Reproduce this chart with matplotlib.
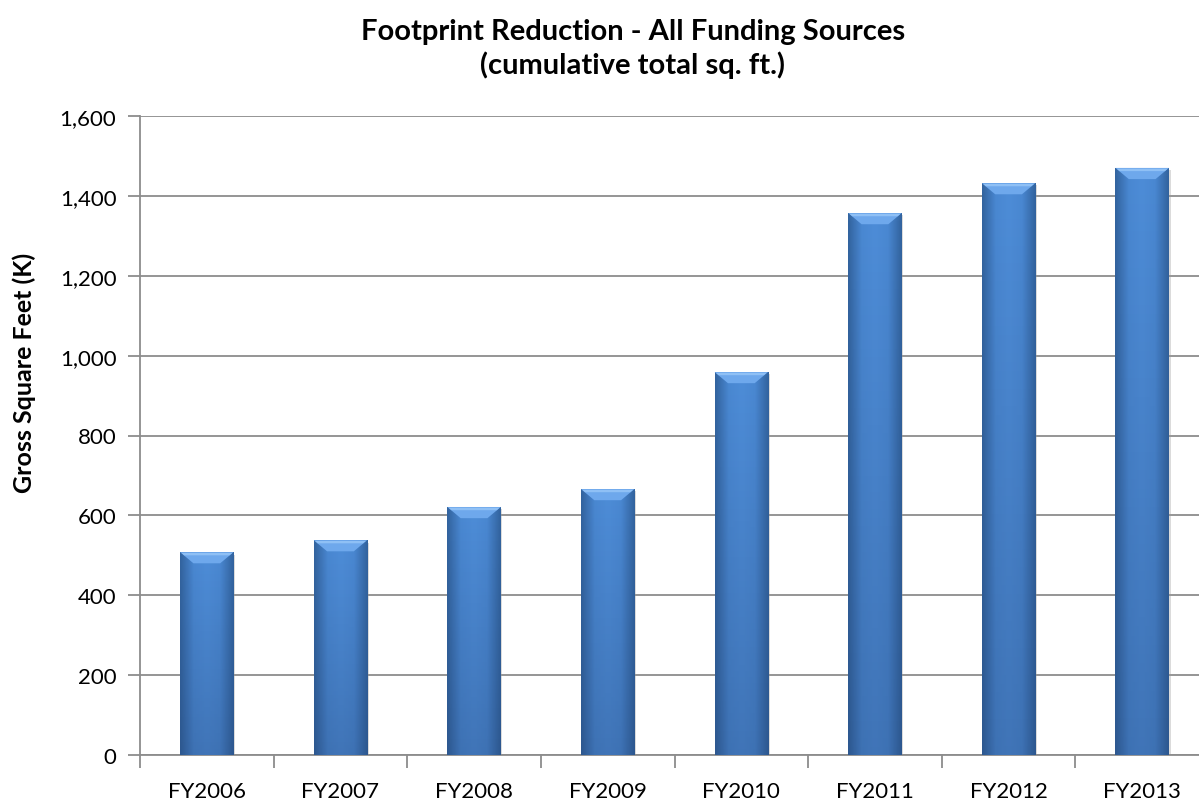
import matplotlib.pyplot as plt
from matplotlib.colors import LinearSegmentedColormap
from matplotlib.patches import Polygon
import numpy as np

years = ["FY2006", "FY2007", "FY2008", "FY2009", "FY2010", "FY2011", "FY2012", "FY2013"]
sqft = [508, 538, 621, 666, 959, 1357, 1432, 1470]
yticks = [0, 200, 400, 600, 800, 1000, 1200, 1400, 1600]

plt.rcParams['font.family'] = ['Lato', 'DejaVu Sans']

fig = plt.figure(figsize=(11.99, 8.04), dpi=100)
ax = fig.add_axes([140/1199, 48/804, 1069/1199, 639/804])

x = np.arange(len(years))
w = 0.4
bars = ax.bar(x, sqft, width=w, color='#4a86cf', zorder=3)

# gradient fill: darker at the sides, lighter in the middle
cmap = LinearSegmentedColormap.from_list('b', ['#33649f', '#4a88d2', '#4e8dd8', '#4a88d2', '#33649f'])
shade_cmap = LinearSegmentedColormap.from_list('s', [(0.12, 0.22, 0.4, 0.28), (0.12, 0.22, 0.4, 0.0)])
grad = np.linspace(0, 1, 64).reshape(1, -1)
vgrad = np.linspace(0, 1, 64).reshape(-1, 1)
bev = 28
ins = 0.1
for b in bars:
    x0, h = b.get_x(), b.get_height()
    # soft shadow
    ax.add_patch(plt.Rectangle((x0 + 0.012, 0), w, h - 6, color='#999999', alpha=0.35, zorder=2, lw=0))
    im = ax.imshow(grad, extent=(x0, x0 + w, 0, h), aspect='auto', cmap=cmap, zorder=3.5)
    im.set_clip_path(b)
    shade = ax.imshow(vgrad, extent=(x0, x0 + w, 0, h), aspect='auto', origin='lower',
                      cmap=shade_cmap, zorder=3.6)
    shade.set_clip_path(b)
    # bevel on top
    ax.add_patch(Polygon([(x0, h), (x0 + w, h), (x0 + w - ins, h - bev), (x0 + ins, h - bev)],
                         closed=True, color='#6ea8ec', lw=0, zorder=3.7))
    ax.add_patch(Polygon([(x0 + 0.01, h - 2), (x0 + w - 0.01, h - 2), (x0 + w - 0.03, h - 8), (x0 + 0.03, h - 8)],
                         closed=True, color='#8fc0f5', lw=0, zorder=3.8))

ax.set_xlim(-0.5, len(years) - 0.5)
ax.set_ylim(0, 1600)
ax.set_yticks(yticks)
ax.set_yticklabels([f"{v:,}" for v in yticks])
ax.yaxis.grid(True, color='#8c8c8c', lw=1.3, zorder=0)
ax.set_axisbelow(True)

ax.set_xticks(x)
ax.set_xticklabels(years)
ax.set_xticks(np.arange(len(years) + 1) - 0.5, minor=True)
ax.tick_params(axis='x', which='major', length=0, pad=19, labelsize=16, colors='#000000')
ax.tick_params(axis='x', which='minor', length=9, width=1.3, color='#8c8c8c')
ax.tick_params(axis='y', length=9, width=1.3, color='#8c8c8c', labelsize=16, pad=8)

for s in ['top', 'right']:
    ax.spines[s].set_visible(False)
for s in ['left', 'bottom']:
    ax.spines[s].set_color('#8c8c8c')
    ax.spines[s].set_linewidth(1.3)

ax.set_ylabel("Gross Square Feet (K)", fontsize=18, fontweight='bold')
ax.yaxis.set_label_coords(-104/1069, (756 - 373) / 639)
fig.text(633/1199, 1 - 49/804, "Footprint Reduction - All Funding Sources\n(cumulative total sq. ft.)",
         ha='center', va='center', fontsize=21, fontweight='bold', linespacing=1.3)

fig.savefig("out.png", dpi=100)
